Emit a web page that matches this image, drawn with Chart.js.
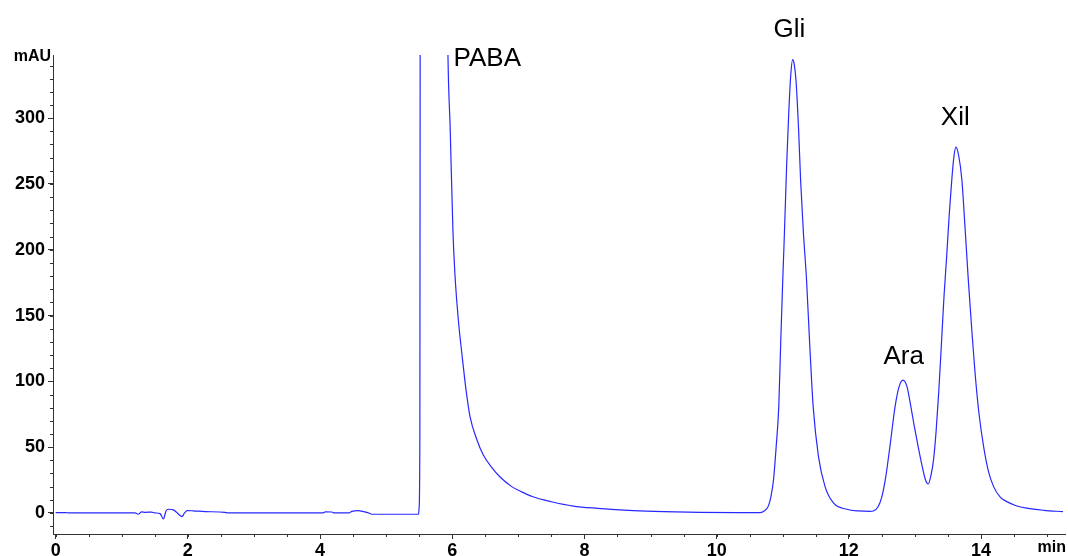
<!DOCTYPE html>
<html>
<head>
<meta charset="utf-8">
<title>Cromatograma</title>
<script src="https://cdn.jsdelivr.net/npm/chart.js@4.4.1/dist/chart.umd.min.js"></script>
<style>
  html, body { margin: 0; padding: 0; background: #fff; }
  #wrap { width: 1068px; height: 556px; position: relative; }
</style>
</head>
<body>
<div id="wrap"><canvas id="cromatograma"></canvas></div>
<script>
// tiempo de retención (min) y señal del detector (mAU)
const tiempo = [
  0.00, 0.15, 0.20, 1.20, 1.25, 1.30, 1.36, 1.45, 1.50, 1.58,
  1.63, 1.67, 1.71, 1.78, 1.83, 1.86, 1.91, 1.95, 1.99, 2.08,
  2.26, 2.56, 2.60, 4.04, 4.08, 4.18, 4.21, 4.44, 4.48, 4.58,
  4.64, 4.74, 4.78, 5.49,
  // PABA (fuera de escala)
  5.50, 5.51, 5.52, 5.70, 5.93, 5.97, 6.01, 6.04, 6.09, 6.15,
  6.21, 6.27, 6.37, 6.47, 6.60, 6.72, 6.90, 7.05, 7.22, 7.50,
  7.83, 8.20, 8.74, 9.20, 9.75, 10.30, 10.60,
  // Gli
  10.66, 10.72, 10.78, 10.82, 10.86, 10.90, 10.94, 10.97, 11.00, 11.02,
  11.04, 11.06, 11.09, 11.12, 11.15, 11.17, 11.20, 11.24, 11.27, 11.31,
  11.36, 11.41, 11.46, 11.54, 11.64, 11.77, 11.97, 12.15, 12.32,
  // Ara
  12.37, 12.44, 12.50, 12.56, 12.62, 12.70, 12.76, 12.82, 12.88, 12.93,
  12.99, 13.05, 13.12, 13.16, 13.20, 13.24,
  // Xil
  13.28, 13.32, 13.36, 13.40, 13.44, 13.48, 13.52, 13.56, 13.59, 13.62,
  13.66, 13.71, 13.76, 13.81, 13.86, 13.91, 13.97, 14.04, 14.11, 14.19,
  14.29, 14.39, 14.53, 14.69, 14.95, 15.24
];
const senal = [
  0.3, 0.3, 0, 0, -1, 0.8, 0.5, 0.6, 0, -0.5,
  -4.5, 1.5, 2.8, 2.3, 0.5, -1, -2.8, 0, 1.8, 1.6,
  1.0, 0.5, 0, 0, 0.8, 0.7, 0, 0, 1.2, 1.7,
  1.2, 0, -1, -1,
  5, 60, 700, 1800, 365, 290, 215, 182, 148, 119,
  93, 73, 56, 44, 34.5, 27.5, 20, 16, 12.3, 8.5,
  5.2, 3.5, 1.8, 1.0, 0.5, 0.3, 0.3,
  0.3, 1.5, 5, 12, 25, 50, 81, 131, 177, 205,
  235, 266, 303, 332, 344.5, 342, 329, 291, 253, 215,
  177, 126, 81, 43, 20, 7.4, 2.8, 1.5, 1.2,
  1.5, 4.5, 12.4, 28, 50, 81, 96, 101, 96, 83,
  66, 50, 33, 25, 22, 28,
  40, 62, 92, 128, 165, 195, 228, 255, 271, 278,
  272, 253, 215, 175, 139, 106, 75, 50, 32, 20,
  12, 8.6, 5.5, 3.6, 2, 1
];

// ticks principales de los ejes
const ticksTiempo = [0, 2, 4, 6, 8, 10, 12, 14];
const ticksSenal = [0, 50, 100, 150, 200, 250, 300];

// nombres de los picos y dónde va cada rótulo (min, mAU)
const picos = ['PABA', 'Gli', 'Ara', 'Xil'];
const picosTiempo = [6.53, 11.10, 12.83, 13.61];
const picosSenal = [340, 362, 113, 295];

const colorEje = '#333';
const fuenteEje = { family: '"Liberation Sans", Arial, sans-serif', size: 18, weight: 'bold' };

// ticks menores y rótulos de unidades / picos
const extras = {
  id: 'extras',
  afterDraw(chart) {
    const { ctx, chartArea, scales } = chart;
    const sx = scales.x, sy = scales.y;
    ctx.save();
    ctx.strokeStyle = colorEje;
    ctx.lineWidth = 1;
    ctx.beginPath();
    for (let v = 0; v <= sx.max; v += 0.5) {
      const px = Math.round(sx.getPixelForValue(v)) + 0.5;
      ctx.moveTo(px, chartArea.bottom);
      ctx.lineTo(px, chartArea.bottom + 3);
    }
    for (let v = -10; v <= sy.max; v += 10) {
      const py = Math.round(sy.getPixelForValue(v)) + 0.5;
      ctx.moveTo(chartArea.left, py);
      ctx.lineTo(chartArea.left - 3, py);
    }
    ctx.stroke();

    ctx.fillStyle = '#000';
    ctx.font = 'bold 16px "Liberation Sans", Arial, sans-serif';
    ctx.textAlign = 'right';
    ctx.textBaseline = 'alphabetic';
    ctx.fillText('mAU', chartArea.left - 2, chartArea.top + 6);
    ctx.fillText('min', chart.width - 2, chart.height - 4);

    ctx.font = '26px "Liberation Sans", Arial, sans-serif';
    ctx.textAlign = 'center';
    picos.forEach((nombre, i) => {
      ctx.fillText(nombre, sx.getPixelForValue(picosTiempo[i]), sy.getPixelForValue(picosSenal[i]));
    });
    ctx.restore();
  }
};

new Chart(document.getElementById('cromatograma'), {
  type: 'line',
  data: {
    datasets: [{
      data: tiempo.map((t, i) => ({ x: t, y: senal[i] })),
      borderColor: 'rgb(40, 40, 255)',
      borderWidth: 1.2,
      pointRadius: 0,
      fill: false,
      cubicInterpolationMode: 'monotone'
    }]
  },
  options: {
    responsive: true,
    maintainAspectRatio: false,
    animation: false,
    layout: { padding: { top: 55, right: 3, bottom: 0, left: 0 } },
    plugins: { legend: { display: false }, tooltip: { enabled: false } },
    scales: {
      x: {
        type: 'linear',
        min: -0.04,
        max: 15.27,
        afterBuildTicks: axis => { axis.ticks = ticksTiempo.map(v => ({ value: v })); },
        afterFit: axis => { axis.height = 22; },
        border: { color: colorEje, width: 1 },
        grid: { drawOnChartArea: false, color: colorEje, tickLength: 5 },
        ticks: { color: '#000', font: fuenteEje, padding: 1, maxRotation: 0, autoSkip: false }
      },
      y: {
        min: -16,
        max: 348,
        afterBuildTicks: axis => { axis.ticks = ticksSenal.map(v => ({ value: v })); },
        afterFit: axis => { axis.width = 53; },
        border: { color: colorEje, width: 1 },
        grid: { drawOnChartArea: false, color: colorEje, tickLength: 5 },
        ticks: { color: '#000', font: fuenteEje, padding: 3 }
      }
    }
  },
  plugins: [extras]
});
</script>
</body>
</html>
